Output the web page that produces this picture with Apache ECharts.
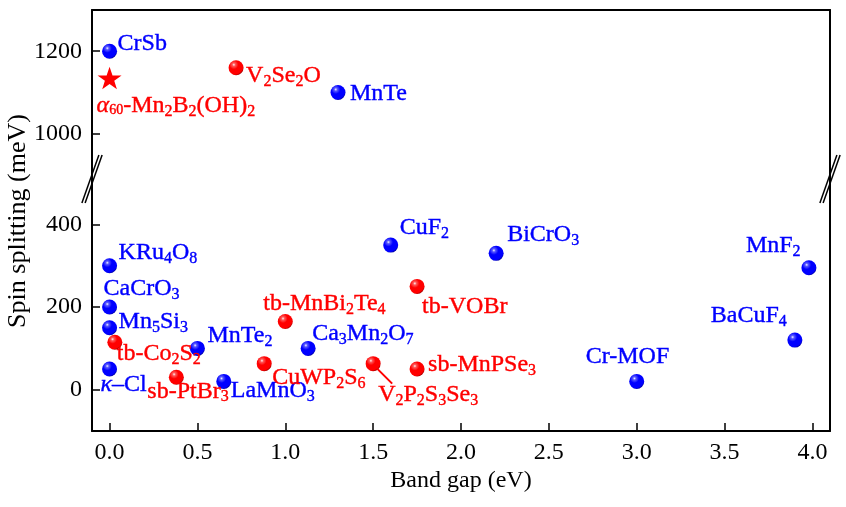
<!DOCTYPE html>
<html>
<head>
<meta charset="utf-8">
<script src="https://cdn.jsdelivr.net/npm/echarts@6/dist/echarts.min.js"></script>
<style>
html, body { margin: 0; padding: 0; background: #fff; }
#main { width: 846px; height: 507px; }
</style>
</head>
<body>
<div id="main"></div>
<script>
// blue points (names use _n for subscripts)
var blueNames = ['CrSb', 'MnTe', 'KRu_4O_8', 'CaCrO_3', 'Mn_5Si_3', 'κ–Cl', 'MnTe_2', 'LaMnO_3',
    'Ca_3Mn_2O_7', 'CuF_2', 'BiCrO_3', 'Cr-MOF', 'BaCuF_4', 'MnF_2']
var blueGap = [0, 1.3, 0, 0, 0, 0, 0.5, 0.65, 1.13, 1.6, 2.2, 3.0, 3.9, 3.98]
var blueSplit = [1200, 1100, 300, 200, 150, 50, 100, 20, 100, 350, 330, 20, 120, 295]

// red points
var redNames = ['V_2Se_2O', 'tb-Co_2S_2', 'sb-PtBr_3', 'tb-MnBi_2Te_4', 'CuWP_2S_6',
    'V_2P_2S_3Se_3', 'sb-MnPSe_3', 'tb-VOBr']
var redGap = [0.72, 0.03, 0.38, 1.0, 0.88, 1.5, 1.75, 1.75]
var redSplit = [1160, 115, 30, 165, 63, 63, 50, 250]

// star
var starNames = ['α60-Mn_2B_2(OH)_2']
var starGap = [0]
var starSplit = [1135]

// ticks
var xTicks = [0, 0.5, 1, 1.5, 2, 2.5, 3, 3.5, 4]
var yTicksUp = [1000, 1200]
var yTicksLow = [0, 200, 400]

// label offsets (px from point centre to text left / middle)
var labelOffset = {
    'CrSb': [8, -8], 'MnTe': [12, 1], 'KRu_4O_8': [9, -13], 'CaCrO_3': [-6, -18],
    'Mn_5Si_3': [9, -6], 'κ–Cl': [-9, 16], 'MnTe_2': [10, -13], 'LaMnO_3': [7, 9],
    'Ca_3Mn_2O_7': [4, -15], 'CuF_2': [9, -17], 'BiCrO_3': [11, -19], 'Cr-MOF': [-51, -25],
    'BaCuF_4': [-84, -24], 'MnF_2': [-63, -22],
    'V_2Se_2O': [10, 8], 'tb-Co_2S_2': [2, 12], 'sb-PtBr_3': [-29, 14], 'tb-MnBi_2Te_4': [-22, -18],
    'CuWP_2S_6': [8, 14], 'V_2P_2S_3Se_3': [5, 31], 'sb-MnPSe_3': [11, -4], 'tb-VOBr': [5, 20],
    'α60-Mn_2B_2(OH)_2': [-13, 28]
}

var F = '"Liberation Serif", "Times New Roman", serif'
var FS = 24
var BREAK = 890   // upper part min
var LOWMAX = 510  // lower part max

function toRich(name) {
    var out = ''
    var rest = name
    if (rest.indexOf('α60') == 0) {
        out += '{i|α}{sm|60}'
        rest = rest.slice(3)
    } else if (rest.indexOf('κ') == 0) {
        out += '{i|κ}'
        rest = rest.slice(1)
    }
    var parts = rest.split(/_(\d+)/)
    parts.forEach(function (p, i) {
        if (p === '') return
        out += (i % 2 == 1) ? '{s|' + p + '}' : '{n|' + p + '}'
    })
    return out
}

function richStyle(color) {
    var b = { textBorderColor: color, textBorderWidth: 0.4 }
    return {
        n: Object.assign({ fontFamily: F, fontSize: FS, lineHeight: 28, color: color }, b),
        i: Object.assign({ fontFamily: F, fontSize: FS, fontStyle: 'italic', lineHeight: 28, color: color }, b),
        s: Object.assign({ fontFamily: F, fontSize: 16, lineHeight: 16, padding: [17, 0, 0, 0], verticalAlign: 'bottom', color: color }, b),
        sm: Object.assign({ fontFamily: F, fontSize: 14, lineHeight: 14, padding: [8, 0, 0, 0], verticalAlign: 'middle', color: color }, b)
    }
}

function makeData(names, xs, ys, upper) {
    var res = []
    names.forEach(function (n, i) {
        if ((ys[i] >= BREAK) != upper) return
        var off = labelOffset[n] || [8, 0]
        res.push({
            name: n,
            value: [xs[i], ys[i]],
            label: { offset: off }
        })
    })
    return res
}

function sphere(light, mid, base, dark) {
    return {
        type: 'radial', x: 0.35, y: 0.3, r: 0.75,
        colorStops: [
            { offset: 0, color: light },
            { offset: 0.14, color: mid },
            { offset: 0.4, color: base },
            { offset: 0.85, color: base },
            { offset: 1, color: dark }
        ]
    }
}
var blueBall = sphere('#f4f4ff', '#5a5aff', '#0000ff', '#00009a')
var redBall = sphere('#fff4f4', '#ff5a5a', '#ff0000', '#9a0000')

function pointSeries(data, xi, yi, ball, color) {
    return {
        type: 'scatter',
        xAxisIndex: xi,
        yAxisIndex: yi,
        symbol: 'circle',
        symbolSize: 15,
        itemStyle: { color: ball, opacity: 1 },
        label: {
            show: true,
            position: 'inside',
            align: 'left',
            verticalAlign: 'middle',
            formatter: function (p) { return toRich(p.name) },
            rich: richStyle(color)
        },
        emphasis: { disabled: true },
        data: data
    }
}

var starPath = 'path://M50,0 L61.8,35.1 L98.1,35.1 L68.8,56.7 L79.4,91 L50,70 L20.6,91 L31.2,56.7 L1.9,35.1 L38.2,35.1 Z'

var axisLineStyle = { color: '#000', width: 2 }
var tickStyle = { color: '#000', width: 1.5 }
var labelStyle = { color: '#000', fontFamily: F, fontSize: FS }

function frameY(gridIndex, min, max, pos) {
    return {
        type: 'value', gridIndex: gridIndex, position: pos, min: min, max: max,
        axisLine: { show: true, onZero: false, lineStyle: axisLineStyle },
        axisTick: { show: false }, axisLabel: { show: false }, splitLine: { show: false }
    }
}

var chart = echarts.init(document.getElementById('main'))
var option = {
    animation: false,
    backgroundColor: '#fff',
    grid: [
        { left: 92, right: 16, top: 10, height: 169 },
        { left: 92, right: 16, top: 179, bottom: 76 }
    ],
    xAxis: [
        {
            type: 'value', gridIndex: 0, position: 'top', min: -0.1, max: 4.1,
            axisLine: { show: true, onZero: false, lineStyle: axisLineStyle },
            axisTick: { show: false }, axisLabel: { show: false }, splitLine: { show: false }
        },
        {
            type: 'value', gridIndex: 1, position: 'bottom', min: -0.1, max: 4.1,
            name: 'Band gap (eV)', nameLocation: 'middle', nameGap: 38,
            nameTextStyle: { color: '#000', fontFamily: F, fontSize: FS },
            axisLine: { show: true, onZero: false, lineStyle: axisLineStyle },
            axisTick: { show: true, inside: true, length: 8, lineStyle: tickStyle, customValues: xTicks },
            axisLabel: Object.assign({ margin: 10, customValues: xTicks, formatter: function (v) { return v.toFixed(1) } }, labelStyle),
            splitLine: { show: false }
        }
    ],
    yAxis: [
        {
            type: 'value', gridIndex: 0, position: 'left', min: BREAK, max: 1300,
            axisLine: { show: true, onZero: false, lineStyle: axisLineStyle },
            axisTick: { show: true, inside: true, length: 8, lineStyle: tickStyle, customValues: yTicksUp },
            axisLabel: Object.assign({ margin: 10, customValues: yTicksUp, formatter: function (v) { return String(v) } }, labelStyle),
            splitLine: { show: false }
        },
        frameY(0, BREAK, 1300, 'right'),
        {
            type: 'value', gridIndex: 1, position: 'left', min: -100, max: LOWMAX,
            axisLine: { show: true, onZero: false, lineStyle: axisLineStyle },
            axisTick: { show: true, inside: true, length: 8, lineStyle: tickStyle, customValues: yTicksLow },
            axisLabel: Object.assign({ margin: 10, customValues: yTicksLow, formatter: function (v) { return String(v) } }, labelStyle),
            splitLine: { show: false }
        },
        frameY(1, -100, LOWMAX, 'right')
    ],
    series: [
        pointSeries(makeData(blueNames, blueGap, blueSplit, true), 0, 0, blueBall, '#0000ff'),
        pointSeries(makeData(blueNames, blueGap, blueSplit, false), 1, 2, blueBall, '#0000ff'),
        pointSeries(makeData(redNames, redGap, redSplit, true), 0, 0, redBall, '#ff0000'),
        pointSeries(makeData(redNames, redGap, redSplit, false), 1, 2, redBall, '#ff0000'),
        Object.assign(pointSeries(makeData(starNames, starGap, starSplit, true), 0, 0, '#ff0000', '#ff0000'), {
            symbol: starPath, symbolSize: 24, symbolKeepAspect: true
        })
    ]
}
chart.setOption(option)

// break marks, y title, pointer line
function breakMark(cx, cy) {
    var g = []
    ;[-1.6, 1.6].forEach(function (d) {
        g.push({
            type: 'line', z: 100,
            shape: { x1: cx + d - 8.5, y1: cy + 24, x2: cx + d + 8.5, y2: cy - 24 },
            style: { stroke: '#000', lineWidth: 1.5 }
        })
    })
    return g
}
var graphics = []
graphics = graphics.concat(breakMark(92, 179), breakMark(830, 179))
graphics.push({
    type: 'text', x: 18, y: 221, rotation: Math.PI / 2,
    style: { text: 'Spin splitting (meV)', font: '26px ' + F, fill: '#000', align: 'center', verticalAlign: 'middle' }
})
var vi = redNames.indexOf('V_2P_2S_3Se_3')
var p = chart.convertToPixel({ xAxisIndex: 1, yAxisIndex: 2 }, [redGap[vi], redSplit[vi]])
graphics.push({
    type: 'line', z: 100,
    shape: { x1: p[0] + 4, y1: p[1] + 5, x2: p[0] + 19, y2: p[1] + 20 },
    style: { stroke: '#ff0000', lineWidth: 2 }
})
chart.setOption({ graphic: graphics })
</script>
</body>
</html>
